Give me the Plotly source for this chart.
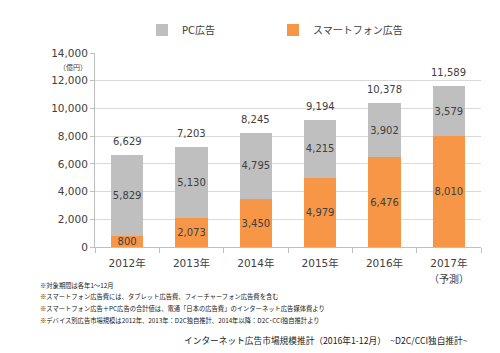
import plotly.graph_objects as go

years = ["2012年", "2013年", "2014年", "2015年", "2016年", "2017年"]
sp_values = [800, 2073, 3450, 4979, 6476, 8010]
pc_values = [5829, 5130, 4795, 4215, 3902, 3579]
totals = [6629, 7203, 8245, 9194, 10378, 11589]
y_ticks = [0, 2000, 4000, 6000, 8000, 10000, 12000, 14000]
notes = [
    "※対象期間は各年1～12月",
    "※スマートフォン広告費には、タブレット広告費、フィーチャーフォン広告費を含む",
    "※スマートフォン広告＋PC広告の合計値は、電通「日本の広告費」のインターネット広告媒体費より",
    "※デバイス別広告市場規模は2012年、2013年：D2C独自推計、2014年以降：D2C･CCI独自推計より",
]
title_text = "インターネット広告市場規模推計（2016年1-12月）　~D2C/CCI独自推計~"

FONT = "DejaVu Sans, Noto Sans CJK JP, sans-serif"
TXT = "#404040"
W, H = 500, 353
L, R, T, B = 95, 19, 53, 106
PW, PH = W - L - R, H - T - B

def px(x):
    return (x - L) / PW

def py(y):
    return (H - B - y) / PH

fig = go.Figure()
fig.add_trace(go.Bar(
    x=years, y=sp_values, name="スマートフォン広告", legend="legend2",
    marker=dict(color="#F79646", line=dict(width=0)),
    text=[f"{v:,}" for v in sp_values], textposition="inside",
    insidetextanchor="middle", textangle=0, constraintext="none",
    textfont=dict(family=FONT, size=10, color=TXT),
))
fig.add_trace(go.Bar(
    x=years, y=pc_values, name="PC広告", legend="legend",
    marker=dict(color="#BFBFBF", line=dict(width=0)),
    text=[f"{v:,}" for v in pc_values], textposition="inside",
    insidetextanchor="middle", textangle=0, constraintext="none",
    textfont=dict(family=FONT, size=10, color=TXT),
))

annotations = []
for yr, t in zip(years, totals):
    annotations.append(dict(x=yr, y=t, xref="x", yref="y", text=f"{t:,}",
                            showarrow=False, yanchor="bottom", yshift=6,
                            font=dict(family=FONT, size=10, color=TXT)))
annotations.append(dict(x=years[-1], y=py(279), xref="x", yref="paper",
                        text="（予測）", showarrow=False, yanchor="middle",
                        font=dict(family=FONT, size=10, color=TXT)))
annotations.append(dict(x=px(89), y=py(67), xref="paper", yref="paper",
                        text="（億円）", showarrow=False, xanchor="right", yanchor="middle",
                        font=dict(family=FONT, size=7, color=TXT)))
for i, n in enumerate(notes):
    annotations.append(dict(x=px(38), y=py(285 + i * 11.7), xref="paper", yref="paper",
                            text=n, showarrow=False, xanchor="left", yanchor="middle",
                            font=dict(family="Noto Sans CJK JP", size=6.3, color="#202020")))
annotations.append(dict(x=px(470), y=py(340), xref="paper", yref="paper",
                        text=title_text, showarrow=False, xanchor="right", yanchor="middle",
                        font=dict(family="Noto Sans CJK JP", size=8.7, color="#202020")))

legend_style = dict(orientation="h", yanchor="middle", y=py(30), xanchor="left",
                    font=dict(family=FONT, size=10, color=TXT), itemwidth=30,
                    bgcolor="rgba(0,0,0,0)")
fig.update_layout(
    width=W, height=H,
    margin=dict(l=L, r=R, t=T, b=B),
    barmode="stack", bargap=0.5,
    paper_bgcolor="white", plot_bgcolor="white",
    font=dict(family=FONT, size=10, color=TXT),
    showlegend=True,
    legend=dict(x=px(142), **legend_style),
    legend2=dict(x=px(273), **legend_style),
    annotations=annotations,
)
fig.update_xaxes(showline=True, linecolor="#BFBFBF", linewidth=1,
                 ticks="outside", ticklen=5, tickcolor="#BFBFBF",
                 tickson="boundaries", showgrid=False, ticklabelstandoff=6,
                 tickfont=dict(family=FONT, size=10.5, color=TXT))
fig.update_yaxes(range=[0, 14000], tickvals=y_ticks,
                 ticktext=[f"{v:,}" for v in y_ticks],
                 showline=True, linecolor="#BFBFBF", linewidth=1,
                 ticks="outside", ticklen=4, tickcolor="#BFBFBF",
                 gridcolor="#D9D9D9", gridwidth=1, zeroline=False,
                 tickfont=dict(family=FONT, size=10.5, color=TXT))

fig.write_html("out.html")
